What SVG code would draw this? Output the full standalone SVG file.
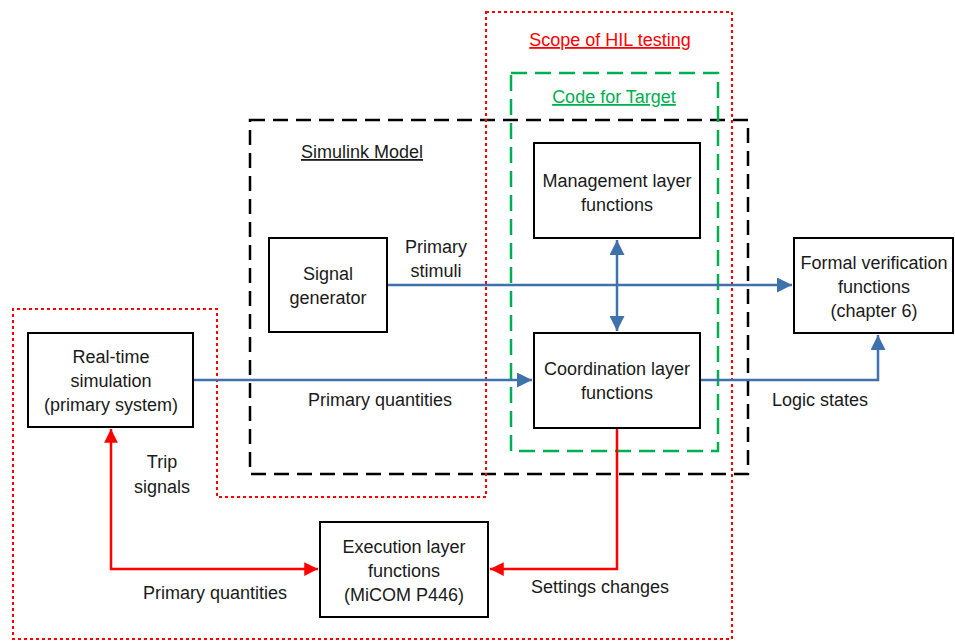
<svg xmlns="http://www.w3.org/2000/svg" width="955" height="641" viewBox="0 0 955 641">
<defs>
<style>
text{font-family:"Liberation Sans","Open Sans",sans-serif;font-size:18px;fill:#1a1a1a;text-anchor:middle}
.box{fill:#fff;stroke:#000;stroke-width:2}
.blue{fill:none;stroke:#3f72aa;stroke-width:2.5}
.red{fill:none;stroke:#ff0000;stroke-width:2.5}
</style>
<marker id="ab" viewBox="0 0 10 10" refX="10" refY="5" markerWidth="6.5" markerHeight="6" markerUnits="strokeWidth" orient="auto-start-reverse"><path d="M0,0L10,5L0,10z" fill="#3f72aa"/></marker>
<marker id="ar" viewBox="0 0 10 10" refX="10" refY="5" markerWidth="6" markerHeight="5.5" markerUnits="strokeWidth" orient="auto-start-reverse"><path d="M0,0L10,5L0,10z" fill="#ff0000"/></marker>
</defs>
<rect width="955" height="641" fill="#fff"/>
<g id="boundaries">
<rect x="250" y="120" width="498" height="354" fill="none" stroke="#000" stroke-width="2.5" stroke-dasharray="15 8"/>
<rect x="511" y="73" width="207" height="378" fill="none" stroke="#00b050" stroke-width="2.5" stroke-dasharray="16 8"/>
<path d="M486,12H732V639H13V309H217V497H486Z" fill="none" stroke="#ff0000" stroke-width="2" stroke-dasharray="3 3"/>
<text x="610" y="46" style="fill:#ff0000;text-decoration:underline">Scope of HIL testing</text>
<text x="614" y="103" style="fill:#00b050;text-decoration:underline">Code for Target</text>
<text x="362" y="158" style="text-decoration:underline">Simulink Model</text>
</g>
<g id="connectors">
<path class="blue" d="M387,285H792" marker-end="url(#ab)"/>
<path class="blue" d="M193,380H532" marker-end="url(#ab)"/>
<path class="blue" d="M617,240V331" marker-start="url(#ab)" marker-end="url(#ab)"/>
<path class="blue" d="M700,380H878V335" marker-end="url(#ab)"/>
<path class="red" d="M617,428V569H490" marker-end="url(#ar)"/>
<path class="red" d="M111,429V569H318" marker-start="url(#ar)" marker-end="url(#ar)"/>
<text x="436" y="253">Primary</text>
<text x="436" y="277">stimuli</text>
<text x="380" y="406">Primary quantities</text>
<text x="820" y="406">Logic states</text>
<text x="162" y="468">Trip</text>
<text x="162" y="493">signals</text>
<text x="215" y="599">Primary quantities</text>
<text x="600" y="593">Settings changes</text>
</g>
<g id="management">
<rect class="box" x="534" y="143" width="166" height="95"/>
<text x="617" y="187">Management layer</text>
<text x="617" y="211">functions</text>
</g>
<g id="coordination">
<rect class="box" x="534" y="333" width="166" height="95"/>
<text x="617" y="375">Coordination layer</text>
<text x="617" y="399">functions</text>
</g>
<g id="signal-generator">
<rect class="box" x="269" y="238" width="118" height="94"/>
<text x="328" y="280">Signal</text>
<text x="328" y="304">generator</text>
</g>
<g id="real-time">
<rect class="box" x="28" y="333" width="165" height="94"/>
<text x="111" y="363">Real-time</text>
<text x="111" y="387">simulation</text>
<text x="111" y="411">(primary system)</text>
</g>
<g id="formal">
<rect class="box" x="794" y="238" width="159" height="95"/>
<text x="874" y="269">Formal verification</text>
<text x="874" y="293">functions</text>
<text x="874" y="317">(chapter 6)</text>
</g>
<g id="execution">
<rect class="box" x="320" y="522" width="168" height="95"/>
<text x="404" y="553">Execution layer</text>
<text x="404" y="577">functions</text>
<text x="404" y="601">(MiCOM P446)</text>
</g>
</svg>
